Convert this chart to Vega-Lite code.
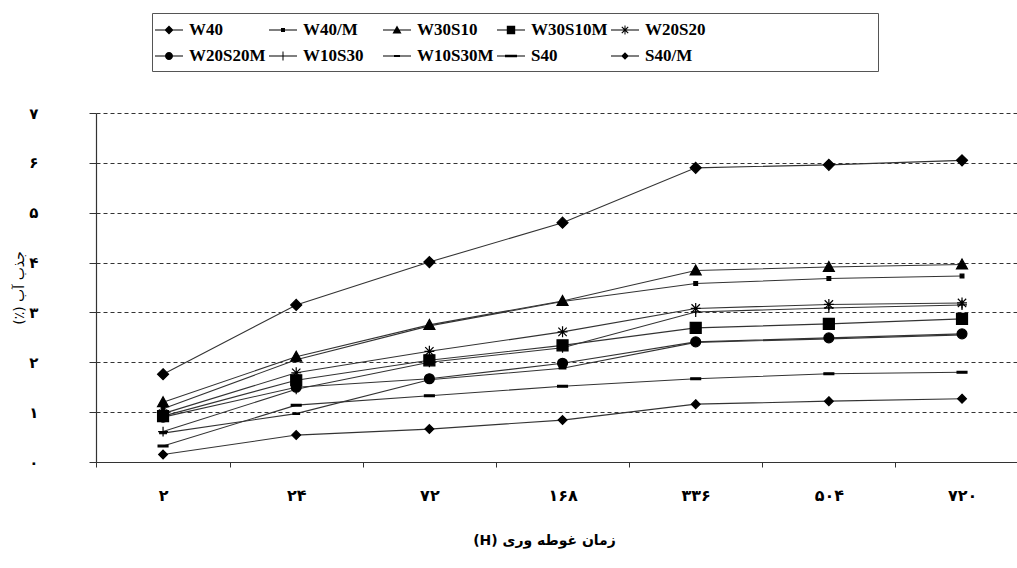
{
  "$schema": "https://vega.github.io/schema/vega-lite/v6.json",
  "width": 922,
  "height": 349,
  "padding": {"left": 12, "top": 12, "right": 0, "bottom": 10},
  "background": "white",
  "data": {"values": [
    {"series": "W40", "t": "۲", "v": 1.76}, {"series": "W40", "t": "۲۴", "v": 3.15}, {"series": "W40", "t": "۷۲", "v": 4.01}, {"series": "W40", "t": "۱۶۸", "v": 4.80}, {"series": "W40", "t": "۳۳۶", "v": 5.90}, {"series": "W40", "t": "۵۰۴", "v": 5.96}, {"series": "W40", "t": "۷۲۰", "v": 6.05},
    {"series": "W40/M", "t": "۲", "v": 1.07}, {"series": "W40/M", "t": "۲۴", "v": 2.05}, {"series": "W40/M", "t": "۷۲", "v": 2.73}, {"series": "W40/M", "t": "۱۶۸", "v": 3.22}, {"series": "W40/M", "t": "۳۳۶", "v": 3.58}, {"series": "W40/M", "t": "۵۰۴", "v": 3.68}, {"series": "W40/M", "t": "۷۲۰", "v": 3.73},
    {"series": "W30S10", "t": "۲", "v": 1.20}, {"series": "W30S10", "t": "۲۴", "v": 2.11}, {"series": "W30S10", "t": "۷۲", "v": 2.75}, {"series": "W30S10", "t": "۱۶۸", "v": 3.23}, {"series": "W30S10", "t": "۳۳۶", "v": 3.84}, {"series": "W30S10", "t": "۵۰۴", "v": 3.91}, {"series": "W30S10", "t": "۷۲۰", "v": 3.96},
    {"series": "W30S10M", "t": "۲", "v": 0.92}, {"series": "W30S10M", "t": "۲۴", "v": 1.64}, {"series": "W30S10M", "t": "۷۲", "v": 2.04}, {"series": "W30S10M", "t": "۱۶۸", "v": 2.34}, {"series": "W30S10M", "t": "۳۳۶", "v": 2.69}, {"series": "W30S10M", "t": "۵۰۴", "v": 2.77}, {"series": "W30S10M", "t": "۷۲۰", "v": 2.87},
    {"series": "W20S20", "t": "۲", "v": 0.97}, {"series": "W20S20", "t": "۲۴", "v": 1.79}, {"series": "W20S20", "t": "۷۲", "v": 2.22}, {"series": "W20S20", "t": "۱۶۸", "v": 2.61}, {"series": "W20S20", "t": "۳۳۶", "v": 3.08}, {"series": "W20S20", "t": "۵۰۴", "v": 3.16}, {"series": "W20S20", "t": "۷۲۰", "v": 3.19},
    {"series": "W20S20M", "t": "۲", "v": 0.90}, {"series": "W20S20M", "t": "۲۴", "v": 1.50}, {"series": "W20S20M", "t": "۷۲", "v": 1.67}, {"series": "W20S20M", "t": "۱۶۸", "v": 1.98}, {"series": "W20S20M", "t": "۳۳۶", "v": 2.41}, {"series": "W20S20M", "t": "۵۰۴", "v": 2.49}, {"series": "W20S20M", "t": "۷۲۰", "v": 2.57},
    {"series": "W10S30", "t": "۲", "v": 0.61}, {"series": "W10S30", "t": "۲۴", "v": 1.46}, {"series": "W10S30", "t": "۷۲", "v": 2.00}, {"series": "W10S30", "t": "۱۶۸", "v": 2.29}, {"series": "W10S30", "t": "۳۳۶", "v": 3.01}, {"series": "W10S30", "t": "۵۰۴", "v": 3.09}, {"series": "W10S30", "t": "۷۲۰", "v": 3.15},
    {"series": "W10S30M", "t": "۲", "v": 0.58}, {"series": "W10S30M", "t": "۲۴", "v": 0.97}, {"series": "W10S30M", "t": "۷۲", "v": 1.65}, {"series": "W10S30M", "t": "۱۶۸", "v": 1.88}, {"series": "W10S30M", "t": "۳۳۶", "v": 2.40}, {"series": "W10S30M", "t": "۵۰۴", "v": 2.47}, {"series": "W10S30M", "t": "۷۲۰", "v": 2.55},
    {"series": "S40", "t": "۲", "v": 0.32}, {"series": "S40", "t": "۲۴", "v": 1.14}, {"series": "S40", "t": "۷۲", "v": 1.33}, {"series": "S40", "t": "۱۶۸", "v": 1.52}, {"series": "S40", "t": "۳۳۶", "v": 1.67}, {"series": "S40", "t": "۵۰۴", "v": 1.77}, {"series": "S40", "t": "۷۲۰", "v": 1.80},
    {"series": "S40/M", "t": "۲", "v": 0.15}, {"series": "S40/M", "t": "۲۴", "v": 0.54}, {"series": "S40/M", "t": "۷۲", "v": 0.66}, {"series": "S40/M", "t": "۱۶۸", "v": 0.84}, {"series": "S40/M", "t": "۳۳۶", "v": 1.16}, {"series": "S40/M", "t": "۵۰۴", "v": 1.22}, {"series": "S40/M", "t": "۷۲۰", "v": 1.27}
  ]},
  "encoding": {
    "x": {
      "field": "t", "type": "ordinal",
      "scale": {"type": "point", "domain": ["۲", "۲۴", "۷۲", "۱۶۸", "۳۳۶", "۵۰۴", "۷۲۰"], "padding": 0.462, "align": 0.545},
      "axis": {
        "title": "(H) زمان غوطه وری",
        "titleFont": "DejaVu Sans", "titleFontSize": 14, "titleFontWeight": "bold", "titleColor": "black",
        "titlePadding": 30, "titleX": 448,
        "labelFont": "DejaVu Sans", "labelFontSize": 16, "labelFontWeight": "bold", "labelColor": "black",
        "labelPadding": 20, "labelAngle": 0, "labelOffset": 66.58,
        "domainColor": "#333", "domainWidth": 1.2,
        "tickColor": "#333", "tickSize": 5, "tickOffset": -66.58,
        "grid": false
      }
    },
    "y": {
      "field": "v", "type": "quantitative",
      "scale": {"domain": [0, 7], "nice": false},
      "axis": {
        "title": "(٪) جذب آب",
        "titleFont": "DejaVu Sans", "titleFontSize": 14, "titleFontWeight": "normal", "titleColor": "black",
        "titlePadding": 2,
        "values": [0, 1, 2, 3, 4, 5, 6, 7],
        "labelExpr": "['۰','۱','۲','۳','۴','۵','۶','۷'][datum.value]",
        "labelFont": "DejaVu Sans", "labelFontSize": 15, "labelFontWeight": "bold", "labelColor": "black",
        "labelPadding": 51,
        "domainColor": "#333", "domainWidth": 1.2,
        "tickColor": "#333", "tickSize": 7,
        "grid": true, "gridColor": "#333", "gridDash": [4, 3], "gridWidth": 1
      }
    }
  },
  "layer": [
    {
      "mark": {"type": "line", "stroke": "#333333", "strokeWidth": 1.1},
      "encoding": {"detail": {"field": "series"}}
    },
    {
      "mark": {"type": "point", "filled": false, "fill": "black", "stroke": "black", "strokeWidth": 1.2, "size": 484, "opacity": 1},
      "encoding": {
        "shape": {
          "field": "series", "type": "nominal", "legend": null,
          "scale": {
            "domain": ["W40", "W40/M", "W30S10", "W30S10M", "W20S20", "W20S20M", "W10S30", "W10S30M", "S40", "S40/M"],
            "range": [
              "M0,-0.5L0.5,0L0,0.5L-0.5,0Z",
              "M-0.17,-0.17H0.17V0.17H-0.17Z",
              "M0,-0.5L0.5,0.4L-0.5,0.4Z",
              "M-0.5,-0.5H0.5V0.5H-0.5Z",
              "M-0.45,0L0.45,0M0,-0.5L0,0.5M-0.38,-0.38L0.38,0.38M-0.38,0.38L0.38,-0.38",
              "M-0.45,0A0.45,0.45 0 1,0 0.45,0A0.45,0.45 0 1,0 -0.45,0Z",
              "M-0.45,0L0.45,0M0,-0.45L0,0.45",
              "M-0.3,-0.06H0.3V0.06H-0.3Z",
              "M-0.45,-0.08H0.45V0.08H-0.45Z",
              "M0,-0.4L0.4,0L0,0.4L-0.4,0Z"
            ]
          }
        }
      }
    },
    {
      "transform": [{"filter": "false"}],
      "mark": {"type": "point", "filled": true, "fill": "black", "size": 400, "opacity": 1},
      "encoding": {
        "shape": {
          "field": "series", "type": "nominal",
          "scale": {
            "domain": ["W40", "W40/M", "W30S10", "W30S10M", "W20S20", "W20S20M", "W10S30", "W10S30M", "S40", "S40/M"],
            "range": [
              "M-1.4,-0.06H1.4V0.06H-1.4ZM0,-0.45L0.45,0L0,0.45L-0.45,0Z",
              "M-1.4,-0.06H1.4V0.06H-1.4ZM-0.2,-0.2H0.2V0.2H-0.2Z",
              "M-1.4,-0.06H1.4V0.06H-1.4ZM0,-0.45L0.45,0.35L-0.45,0.35Z",
              "M-1.4,-0.06H1.4V0.06H-1.4ZM-0.42,-0.42H0.42V0.42H-0.42Z",
              "M-1.4,-0.06H1.4V0.06H-1.4ZM-0.05,-0.45H0.05V0.45H-0.05ZM-0.36,-0.28L-0.28,-0.36L0.36,0.28L0.28,0.36ZM-0.36,0.28L0.28,-0.36L0.36,-0.28L-0.28,0.36Z",
              "M-1.4,-0.06H1.4V0.06H-1.4ZM-0.4,0A0.4,0.4 0 1,1 0.4,0A0.4,0.4 0 1,1 -0.4,0Z",
              "M-1.4,-0.06H1.4V0.06H-1.4ZM-0.05,-0.45H0.05V0.45H-0.05Z",
              "M-1.4,-0.06H1.4V0.06H-1.4ZM-0.3,-0.1H0.3V0.1H-0.3Z",
              "M-1.4,-0.06H1.4V0.06H-1.4ZM-0.6,-0.12H0.6V0.12H-0.6Z",
              "M-1.4,-0.06H1.4V0.06H-1.4ZM0,-0.38L0.38,0L0,0.38L-0.38,0Z"
            ]
          },
          "legend": {
            "title": " ", "titleOrient": "right", "titlePadding": 166, "titleFontSize": 17,
            "orient": "none", "legendX": 56, "legendY": -100,
            "columns": 5, "gridAlign": "all", "direction": "horizontal",
            "symbolSize": 400, "symbolStrokeWidth": 0, "symbolFillColor": "black",
            "labelFont": "Liberation Serif", "labelFontWeight": "bold", "labelFontSize": 17, "labelColor": "black",
            "labelOffset": 10, "columnPadding": 3, "rowPadding": 8,
            "strokeColor": "#555", "padding": 7, "fillColor": "white",
            "labelLimit": 200,
            "encode": {"symbols": {"update": {"opacity": {"value": 1}, "fill": {"value": "black"}, "fillOpacity": {"value": 1}}}}
          }
        }
      }
    }
  ],
  "resolve": {"scale": {"shape": "independent"}},
  "config": {"view": {"stroke": null}}
}
